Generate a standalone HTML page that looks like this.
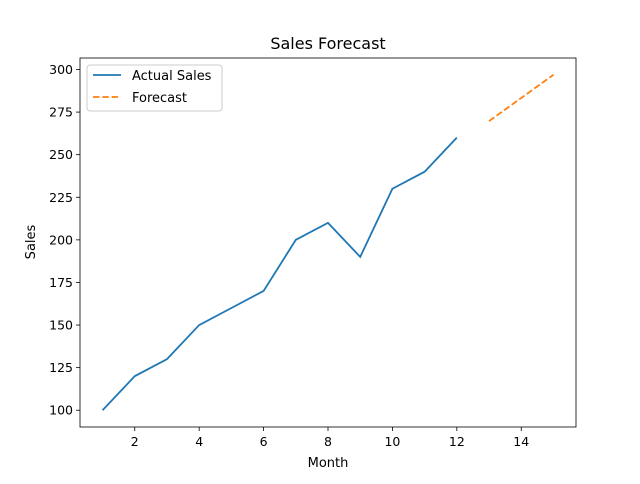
<!DOCTYPE html>
<html><head><meta charset="utf-8"><style>
body{margin:0;background:#fff;font-family:"DejaVu Sans","Liberation Sans",sans-serif;}
svg text{font-family:"DejaVu Sans","Liberation Sans",sans-serif;}
</style></head><body>
<svg id="chart" width="640" height="480" xmlns="http://www.w3.org/2000/svg"></svg>
<script>
const months=[1,2,3,4,5,6,7,8,9,10,11,12];
const sales=[100,120,130,150,160,170,200,210,190,230,240,260];
const forecastMonths=[13,14,15];
const forecastValues=[269.7,283.3,296.9];
const xTicks=[2,4,6,8,10,12,14];
const yTicks=[100,125,150,175,200,225,250,275,300];

const L=80,R=576,T=58,B=427;
const xMin=0.3,xMax=15.7,yMin=90.15,yMax=306.75;
const sx=v=>L+(v-xMin)/(xMax-xMin)*(R-L);
const sy=v=>B-(v-yMin)/(yMax-yMin)*(B-T);
const svg=document.getElementById('chart');
const NS='http://www.w3.org/2000/svg';
function mk(tag,attrs,parent){const e=document.createElementNS(NS,tag);for(const k in attrs)e.setAttribute(k,attrs[k]);(parent||svg).appendChild(e);return e;}

let t=mk('text',{x:328,y:49,'text-anchor':'middle','font-size':16});t.textContent='Sales Forecast';



xTicks.forEach(v=>{const x=sx(v);
 const l=mk('line',{x1:x,x2:x,y1:B,y2:B+4,stroke:'#000','stroke-width':0.8});
 
 
 const tx=mk('text',{x:x,y:B+19,'text-anchor':'middle','font-size':12.5});tx.textContent=v;
 
 
});
yTicks.forEach(v=>{const y=sy(v);
 const l=mk('line',{x1:L-4,x2:L,y1:y,y2:y,stroke:'#000','stroke-width':0.8});
 
 
 const tx=mk('text',{x:L-7,y:y+4.5,'text-anchor':'end','font-size':12.5});tx.textContent=v;
 
 
});

let xl=mk('text',{x:328,y:467,'text-anchor':'middle','font-size':13});xl.textContent='Month';


let yl=mk('text',{x:35,y:242,'text-anchor':'middle','font-size':13,transform:'rotate(-90 35 242)'});yl.textContent='Sales';



let p1=mk('polyline',{points:months.map((m,i)=>sx(m)+','+sy(sales[i])).join(' '),fill:'none',stroke:'#1f77b4','stroke-width':1.8});


let p2=mk('polyline',{points:forecastMonths.map((m,i)=>sx(m)+','+sy(forecastValues[i])).join(' '),fill:'none',stroke:'#ff7f0e','stroke-width':1.8,'stroke-dasharray':'6.5,2.8'});



let fr=mk('rect',{x:L,y:T,width:R-L,height:B-T,fill:'none',stroke:'#000','stroke-width':0.8});



const g=mk('g',{});


mk('rect',{x:87,y:65,width:135,height:46,rx:3,fill:'#fff','fill-opacity':0.8,stroke:'#ccc','stroke-width':1},g);
let e1=mk('line',{x1:93,x2:121,y1:75,y2:75,stroke:'#1f77b4','stroke-width':1.8},g);


let t1=mk('text',{x:132,y:80,'font-size':13},g);t1.textContent='Actual Sales';
let e2=mk('line',{x1:93,x2:121,y1:97,y2:97,stroke:'#ff7f0e','stroke-width':1.8,'stroke-dasharray':'6.5,2.8'},g);


let t2=mk('text',{x:132,y:102,'font-size':13},g);t2.textContent='Forecast';
</script>
</body></html>
